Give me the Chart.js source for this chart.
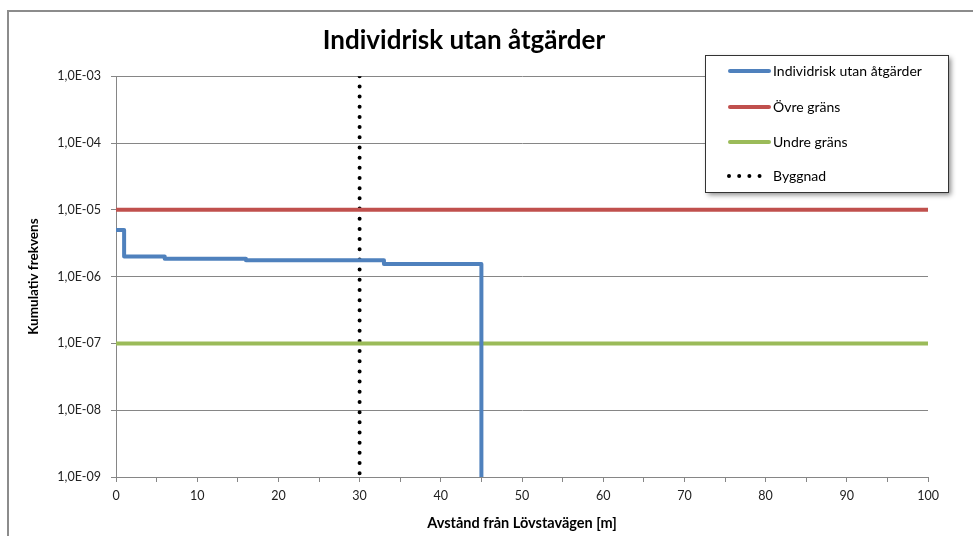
<!DOCTYPE html>
<html>
<head>
<meta charset="utf-8">
<script src="https://cdn.jsdelivr.net/npm/chart.js@4/dist/chart.umd.min.js"></script>
<style>
  html, body { margin: 0; padding: 0; background: #fff; }
  #wrap { width: 973px; height: 536px; position: relative; }
</style>
</head>
<body>
<div id="wrap"><canvas id="myChart" width="973" height="536"></canvas></div>
<script>
// values
var distance = [0, 1, 6, 16, 33, 45];
var risk = [5e-6, 2e-6, 1.85e-6, 1.75e-6, 1.55e-6, 1e-9];
var limitX = [0, 100];
var upperLimit = [1e-5, 1e-5];
var lowerLimit = [1e-7, 1e-7];
var buildingX = [30, 30];
var buildingY = [1e-3, 1e-9];
var yTicks = [1e-9, 1e-8, 1e-7, 1e-6, 1e-5, 1e-4, 1e-3];
var seriesNames = ['Individrisk utan åtgärder', 'Övre gräns', 'Undre gräns', 'Byggnad'];

function pairs(xs, ys) {
    return xs.map(function (x, i) { return { x: x, y: ys[i] }; });
}

function sci(v) {
    var e = Math.round(Math.log10(v));
    var s = e < 0 ? '-' : '+';
    return '1,0E' + s + String(Math.abs(e)).padStart(2, '0');
}

var FONT = 'Lato, "Open Sans", sans-serif';

// outer frame of the chart
var framePlugin = {
    id: 'frame',
    beforeDraw: function (chart) {
        var ctx = chart.ctx;
        ctx.save();
        ctx.strokeStyle = '#8c8c8c';
        ctx.lineWidth = 2;
        ctx.strokeRect(8, 11, 990, 560);
        ctx.restore();
    }
};

// legend box drawn like the excel one
var boxLegend = {
    id: 'boxLegend',
    afterDraw: function (chart) {
        var ctx = chart.ctx;
        var x = 705, y = 55, w = 243, h = 137;
        ctx.save();
        ctx.shadowColor = 'rgba(0,0,0,0.45)';
        ctx.shadowBlur = 5;
        ctx.shadowOffsetX = 3;
        ctx.shadowOffsetY = 3;
        ctx.fillStyle = '#fff';
        ctx.fillRect(x, y, w, h);
        ctx.restore();
        ctx.save();
        ctx.strokeStyle = '#333';
        ctx.lineWidth = 1;
        ctx.strokeRect(x + 0.5, y + 0.5, w, h);
        ctx.font = '14px ' + FONT;
        ctx.textBaseline = 'middle';
        ctx.fillStyle = '#000';
        var rows = [71, 107, 142, 176];
        chart.data.datasets.forEach(function (ds, i) {
            var ly = rows[i];
            ctx.strokeStyle = ds.borderColor;
            ctx.lineWidth = ds.borderWidth;
            ctx.lineCap = 'round';
            ctx.setLineDash(ds.borderDash || []);
            ctx.beginPath();
            if (ds.borderDash) {
                ctx.moveTo(729, ly);
                ctx.lineTo(762, ly);
            } else {
                ctx.moveTo(730, ly);
                ctx.lineTo(769, ly);
            }
            ctx.stroke();
            ctx.setLineDash([]);
            ctx.fillText(ds.label, 773, ly);
        });
        ctx.restore();
    }
};

var ctx = document.getElementById('myChart').getContext('2d');
var myChart = new Chart(ctx, {
    type: 'line',
    data: {
        datasets: [
            {
                label: seriesNames[0],
                data: pairs(distance, risk),
                borderColor: '#4F81BD',
                borderWidth: 4,
                stepped: 'before',
                borderJoinStyle: 'round',
                pointRadius: 0
            },
            {
                label: seriesNames[1],
                data: pairs(limitX, upperLimit),
                borderColor: '#C0504D',
                borderWidth: 4,
                pointRadius: 0
            },
            {
                label: seriesNames[2],
                data: pairs(limitX, lowerLimit),
                borderColor: '#9BBB59',
                borderWidth: 4,
                pointRadius: 0
            },
            {
                label: seriesNames[3],
                data: pairs(buildingX, buildingY),
                borderColor: '#000',
                borderWidth: 4,
                borderDash: [0, 10.18],
                borderCapStyle: 'round',
                pointRadius: 0
            }
        ]
    },
    options: {
        responsive: false,
        animation: false,
        layout: { padding: { left: 0, right: 45, top: 0, bottom: 0 } },
        plugins: {
            legend: { display: false },
            tooltip: { enabled: false },
            title: {
                display: true,
                text: 'Individrisk utan åtgärder',
                color: '#000',
                font: { family: FONT, size: 26, weight: 'bold' },
                padding: { top: 25, bottom: 20 }
            }
        },
        scales: {
            x: {
                type: 'linear',
                min: 0,
                max: 100,
                grid: { drawOnChartArea: false, drawTicks: true, tickLength: 5, color: '#868686' },
                border: { color: '#868686' },
                ticks: {
                    stepSize: 5,
                    autoSkip: false,
                    maxRotation: 0,
                    padding: 6,
                    color: '#222',
                    font: { family: FONT, size: 12.5 },
                    callback: function (v) { return v % 10 === 0 ? v : ''; }
                },
                title: {
                    display: true,
                    text: 'Avstånd från Lövstavägen [m]',
                    color: '#000',
                    font: { family: FONT, size: 14.5, weight: 'bold' },
                    padding: { top: 4, bottom: 4 }
                },
                afterFit: function (scale) { scale.height = 59; }
            },
            y: {
                type: 'logarithmic',
                min: 1e-9,
                max: 1e-3,
                afterBuildTicks: function (scale) {
                    scale.ticks = yTicks.map(function (v) { return { value: v }; });
                },
                grid: { color: '#868686', tickLength: 5 },
                border: { color: '#868686' },
                ticks: {
                    padding: 10,
                    color: '#222',
                    font: { family: FONT, size: 12.5 },
                    callback: function (v) { return sci(v); }
                },
                title: {
                    display: true,
                    text: 'Kumulativ frekvens',
                    color: '#000',
                    font: { family: FONT, size: 13.5, weight: 'bold' },
                    padding: { top: 26, bottom: 4 }
                },
                afterFit: function (scale) { scale.width = 116; }
            }
        }
    },
    plugins: [framePlugin, boxLegend]
});
</script>
</body>
</html>
